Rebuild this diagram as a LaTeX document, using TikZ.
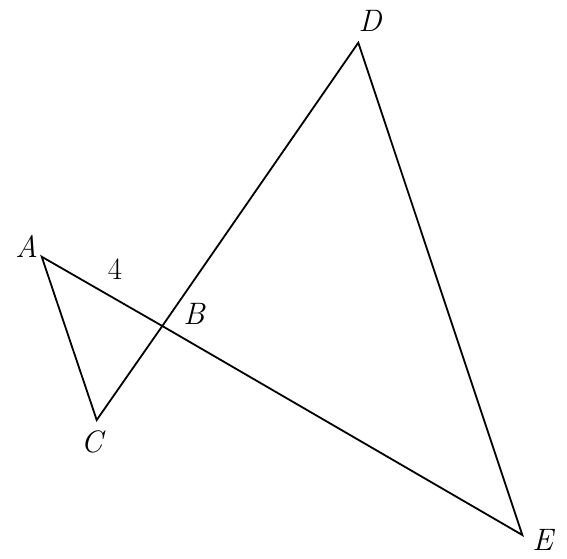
\documentclass[tikz,border=0pt]{standalone}
\begin{document}
\begin{tikzpicture}[x=1pt,y=-1pt,
  seg/.style={line width=1.8pt,line join=miter},
  lbl/.style={font=\fontsize{31}{34}\selectfont\itshape,inner sep=0pt},
  num/.style={font=\fontsize{31}{34}\selectfont,inner sep=0pt}]
\useasboundingbox (0,0) rectangle (567,558);
\coordinate (A) at (41.7,256.7);
\coordinate (C) at (96.7,420);
\coordinate (D) at (358.3,42.7);
\coordinate (E) at (522.3,535);
\coordinate (B) at (162.3,326);
\draw[seg] (B) -- (A) -- (C) -- (B);
\draw[seg] (B) -- (D) -- (E) -- (B);
\node[lbl] (lA) at (26.7,246.7) {A};
\node[lbl] (lB) at (194,314) {B};
\node[lbl] (lC) at (91.7,441.7) {C};
\node[lbl] (lD) at (370,20.7) {D};
\node[lbl] (lE) at (542.7,540) {E};
\node[num] (l4) at (115,269) {4};
\end{tikzpicture}
\end{document}
